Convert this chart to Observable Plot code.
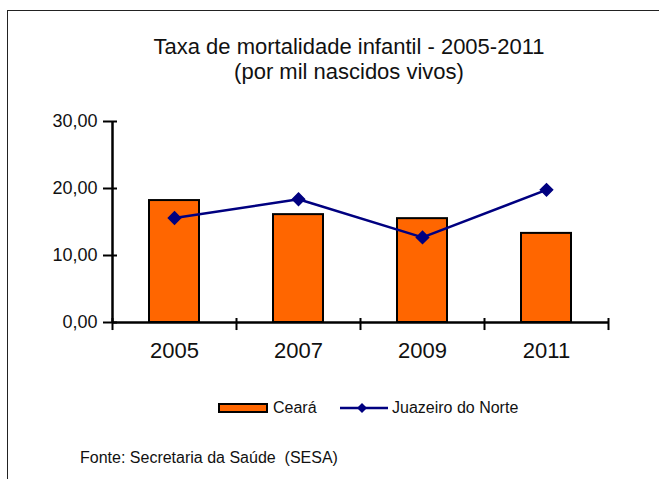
<!DOCTYPE html>
<html><head><meta charset="utf-8">
<script src="https://cdn.jsdelivr.net/npm/d3@7"></script>
<script src="https://cdn.jsdelivr.net/npm/@observablehq/plot@0.6"></script>
<style>
body{margin:0;background:#fff;font-family:"Liberation Sans",Arial,sans-serif;}
#wrap{position:relative;width:659px;height:479px;overflow:hidden;background:#fff;}
#border{position:absolute;left:7px;top:10px;width:660px;height:480px;border-top:1px solid #222;border-left:1px solid #222;}
#title{position:absolute;left:99px;width:500px;top:34px;text-align:center;font-size:22px;line-height:25px;color:#111;}
#chart{position:absolute;left:0;top:100px;}
#legend{position:absolute;top:398px;left:0;width:659px;height:20px;font-size:16px;color:#111;}
.lg{position:absolute;top:0;line-height:20px;}
#caption{position:absolute;left:80px;top:449px;font-size:16px;color:#111;white-space:pre;}
</style></head>
<body>
<div id="wrap">
<div id="border"></div>
<div id="title">Taxa de mortalidade infantil - 2005-2011<br>(por mil nascidos vivos)</div>
<div id="chart"></div>
<div id="legend">
  <div class="lg" style="left:218px;top:5px;width:46px;height:6px;background:#FF6600;border:2px solid #000;"></div>
  <div class="lg" style="left:273px;">Ceará</div>
  <svg class="lg" style="left:338px;" width="52" height="20"><line x1="2" x2="50" y1="10" y2="10" stroke="#000080" stroke-width="2.5"/><path d="M24,5 L29,10 L24,15 L19,10Z" fill="#000080"/></svg>
  <div class="lg" style="left:392px;">Juazeiro do Norte</div>
</div>
<div id="caption">Fonte: Secretaria da Saúde  (SESA)</div>
</div>
<script>
const years = ["2005", "2007", "2009", "2011"];
const ceara = [18.2, 16.1, 15.5, 13.3];
const juazeiro = [15.6, 18.4, 12.7, 19.8];
const yTicks = [0, 10, 20, 30];

const barData = years.map((y, i) => ({year: y, value: ceara[i]}));
const lineData = years.map((y, i) => ({year: y, value: juazeiro[i]}));

const W = 659, mL = 112, mR = 51;
const bw = (W - mL - mR) / years.length;

const chart = Plot.plot({
  width: W,
  height: 262,
  marginLeft: mL,
  marginRight: mR,
  marginTop: 21,
  marginBottom: 40,
  style: {fontFamily: '"Liberation Sans", Arial, sans-serif', background: "transparent", color: "#111"},
  x: {type: "band", domain: years, padding: 0},
  y: {domain: [0, 30]},
  marks: [
    Plot.barY(barData, {x: "year", y: "value", fill: "#FF6600", stroke: "#000", strokeWidth: 2, insetLeft: 37, insetRight: 37}),
    Plot.ruleY([0], {stroke: "#000", strokeWidth: 2.5}),
    Plot.ruleX([years[0]], {x: d => d, y1: 0, y2: 30, dx: -bw / 2, stroke: "#000", strokeWidth: 2.5}),
    Plot.ruleX(years, {x: d => d, y1: -1.2, y2: 0.6, dx: -bw / 2, stroke: "#000", strokeWidth: 2}),
    Plot.ruleX([years[years.length - 1]], {x: d => d, y1: -1.2, y2: 0.6, dx: bw / 2, stroke: "#000", strokeWidth: 2}),
    Plot.axisY({ticks: yTicks, tickFormat: d => d.toFixed(2).replace(".", ","), tickSize: 14, dx: 5, tickPadding: 6, strokeWidth: 2, fontSize: 18, label: null, stroke: "#000"}),
    Plot.axisX({tickSize: 0, tickPadding: 20, fontSize: 22, label: null}),
    Plot.line(lineData, {x: "year", y: "value", stroke: "#000080", strokeWidth: 2.5}),
    Plot.dot(lineData, {x: "year", y: "value", symbol: "diamond2", fill: "#000080", stroke: "#000080", r: 5.5})
  ]
});
document.getElementById("chart").appendChild(chart);
</script>
</body></html>
